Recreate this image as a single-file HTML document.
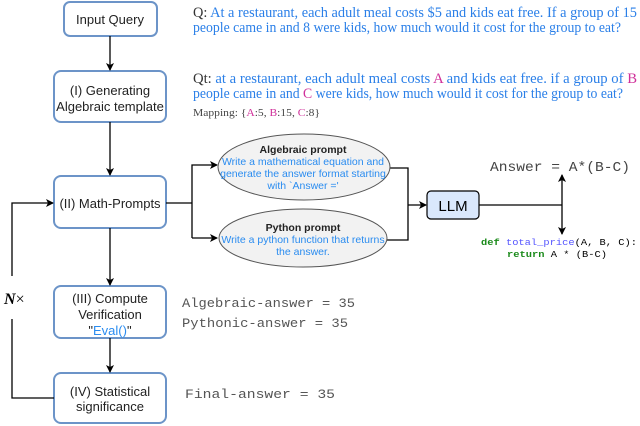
<!DOCTYPE html>
<html><head><meta charset="utf-8"><style>
body{margin:0;background:#fff}
svg{display:block}
.b{font-family:"Liberation Sans",sans-serif}
.s{font-family:"Liberation Serif",serif}
.m{font-family:"Liberation Mono",monospace}
</style></head><body>
<svg width="640" height="426" viewBox="0 0 640 426" xmlns="http://www.w3.org/2000/svg">
<defs><marker id="a" markerWidth="8" markerHeight="8" refX="7" refY="4" orient="auto" markerUnits="userSpaceOnUse"><path d="M0,0 L8,4 L0,8 L2,4 z" fill="#000"/></marker></defs>
<g fill="#fff" stroke="#6c94c8" stroke-width="2">
<rect x="64" y="2" width="93" height="34" rx="6"/>
<rect x="54" y="71" width="112" height="51" rx="7"/>
<rect x="54" y="176" width="112" height="52" rx="7"/>
<rect x="54" y="286" width="112" height="52" rx="7"/>
<rect x="54" y="373" width="112" height="50" rx="7"/>
</g>
<g class="b" font-size="13" fill="#222" text-anchor="middle">
<text x="110" y="24">Input Query</text>
<text x="110" y="95">(I) Generating</text>
<text x="110" y="111">Algebraic template</text>
<text x="110" y="208">(II) Math-Prompts</text>
<text x="110" y="303">(III) Compute</text>
<text x="110" y="319">Verification</text>
<text x="110" y="335">"<tspan fill="#2a8cf0">Eval()</tspan>"</text>
<text x="110" y="396">(IV) Statistical</text>
<text x="110" y="411">significance</text>
</g>
<g stroke="#000" stroke-width="1.3" fill="none">
<line x1="110" y1="36" x2="110" y2="70" marker-end="url(#a)"/>
<line x1="110" y1="122" x2="110" y2="175" marker-end="url(#a)"/>
<line x1="110" y1="228" x2="110" y2="285" marker-end="url(#a)"/>
<line x1="110" y1="338" x2="110" y2="372" marker-end="url(#a)"/>
<polyline points="54,398 12,398 12,319"/>
<polyline points="12,276 12,203 53,203" marker-end="url(#a)"/>
<polyline points="166,203 192,203"/>
<polyline points="192,238 192,165 217,165" marker-end="url(#a)"/>
<polyline points="192,238 217,238" marker-end="url(#a)"/>
<polyline points="389,168 408,168 408,240 386,240"/>
<line x1="408" y1="205" x2="426" y2="205" marker-end="url(#a)"/>
<line x1="479" y1="205" x2="562" y2="205"/>
<line x1="562" y1="205" x2="562" y2="175" marker-end="url(#a)"/>
<line x1="562" y1="205" x2="562" y2="234" marker-end="url(#a)"/>
</g>
<text x="4" y="304" font-family="Liberation Serif,serif" font-size="16" font-style="italic" font-weight="bold">N<tspan font-style="normal" font-weight="normal">×</tspan></text>
<ellipse cx="304" cy="167" rx="86" ry="33" fill="#f2f2f2" stroke="#555" stroke-width="1"/>
<ellipse cx="303" cy="238" rx="84" ry="29" fill="#f2f2f2" stroke="#555" stroke-width="1"/>
<g class="b" font-size="10.5" text-anchor="middle">
<text x="303" y="153" font-weight="bold" fill="#222">Algebraic prompt</text>
<text x="303" y="165" fill="#2a8cf0">Write a mathematical equation and</text>
<text x="303" y="177" fill="#2a8cf0">generate the answer format starting</text>
<text x="303" y="189" fill="#2a8cf0">with `Answer ='</text>
<text x="303" y="231" font-weight="bold" fill="#222">Python prompt</text>
<text x="303" y="243" fill="#2a8cf0">Write a python function that returns</text>
<text x="303" y="255" fill="#2a8cf0">the answer.</text>
</g>
<rect x="427" y="191" width="52" height="28" rx="4" fill="#dae8fc" stroke="#000" stroke-width="1.2"/>
<text x="453" y="211" class="b" font-size="15" text-anchor="middle">LLM</text>
<text x="490" y="171" class="m" font-size="14" fill="#444" textLength="140" lengthAdjust="spacingAndGlyphs">Answer = A*(B-C)</text>
<g class="m" font-size="9">
<text x="481" y="245" textLength="156" lengthAdjust="spacingAndGlyphs"><tspan fill="#1a8a1a" font-weight="bold">def</tspan> <tspan fill="#5555ff">total_price</tspan>(A, B, C):</text>
<text x="507" y="257" textLength="100" lengthAdjust="spacingAndGlyphs"><tspan fill="#1a8a1a" font-weight="bold">return</tspan> A * (B-C)</text>
</g>
<g class="m" font-size="13" fill="#555">
<text x="182" y="307" textLength="173" lengthAdjust="spacingAndGlyphs">Algebraic-answer = 35</text>
<text x="182" y="327" textLength="166" lengthAdjust="spacingAndGlyphs">Pythonic-answer = 35</text>
<text x="185" y="398" textLength="150" lengthAdjust="spacingAndGlyphs">Final-answer = 35</text>
</g>
<g class="s" font-size="14.5" fill="#2a7fe8">
<text x="193" y="17" textLength="444" lengthAdjust="spacingAndGlyphs"><tspan fill="#333">Q:</tspan> At a restaurant, each adult meal costs $5 and kids eat free.  If a group of 15</text>
<text x="193" y="32" textLength="428" lengthAdjust="spacingAndGlyphs">people came in and 8 were kids, how much would it cost for the group to eat?</text>
<text x="193" y="83" textLength="444" lengthAdjust="spacingAndGlyphs"><tspan fill="#333">Qt:</tspan>  at a restaurant, each adult meal costs <tspan fill="#d0309a">A</tspan> and kids eat free.  if a group of <tspan fill="#d0309a">B</tspan></text>
<text x="193" y="98" textLength="430" lengthAdjust="spacingAndGlyphs">people came in and <tspan fill="#d0309a">C</tspan> were kids, how much would it cost for the group to eat?</text>
</g>
<text x="193" y="116" class="s" font-size="11" fill="#444" textLength="127" lengthAdjust="spacingAndGlyphs">Mapping: {<tspan fill="#d0309a">A</tspan>:5, <tspan fill="#d0309a">B</tspan>:15, <tspan fill="#d0309a">C</tspan>:8}</text>
</svg>
</body></html>
